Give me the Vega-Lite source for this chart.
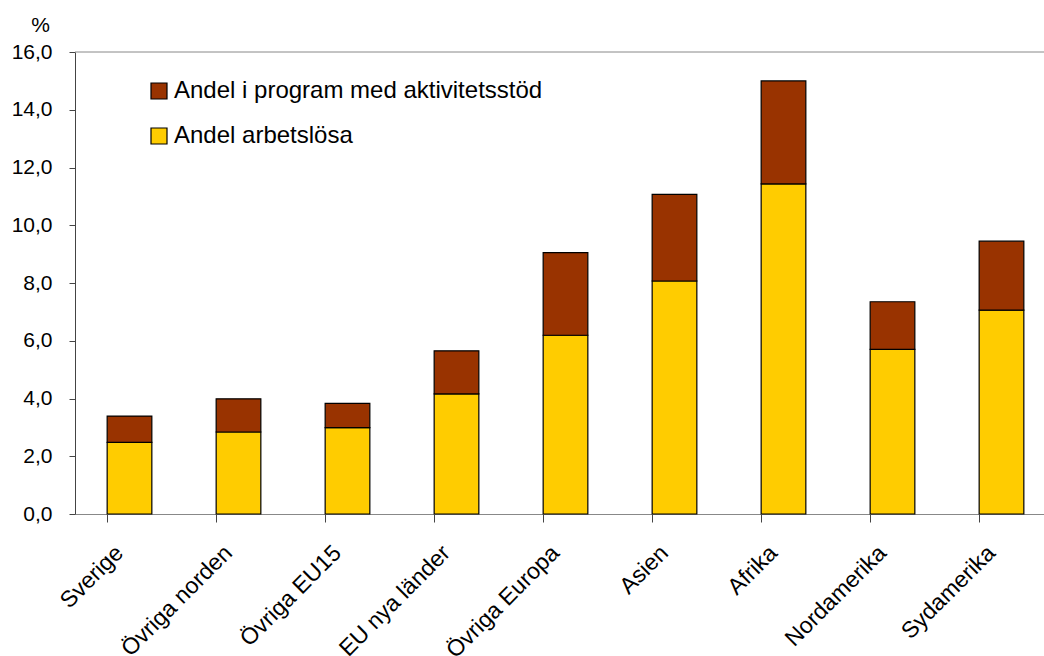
{
  "$schema": "https://vega.github.io/schema/vega-lite/v6.json",
  "width": 981,
  "height": 462,
  "autosize": "none",
  "padding": {"left": 75, "top": 52, "right": 0, "bottom": 142},
  "background": "white",
  "config": {
    "view": {"stroke": null},
    "font": "Liberation Sans"
  },
  "layer": [
    {
      "data": {"values": [{"y": 16}]},
      "mark": {"type": "rule", "color": "#888888", "strokeWidth": 1},
      "encoding": {"y": {"field": "y", "type": "quantitative", "scale": {"domain": [0, 16]}}}
    },
    {
      "data": {
        "values": [
          {"region": "Sverige", "serie": "Andel arbetslösa", "ord": 0, "v": 2.48},
          {"region": "Sverige", "serie": "Andel i program med aktivitetsstöd", "ord": 1, "v": 0.91},
          {"region": "Övriga norden", "serie": "Andel arbetslösa", "ord": 0, "v": 2.84},
          {"region": "Övriga norden", "serie": "Andel i program med aktivitetsstöd", "ord": 1, "v": 1.15},
          {"region": "Övriga EU15", "serie": "Andel arbetslösa", "ord": 0, "v": 2.99},
          {"region": "Övriga EU15", "serie": "Andel i program med aktivitetsstöd", "ord": 1, "v": 0.84},
          {"region": "EU nya länder", "serie": "Andel arbetslösa", "ord": 0, "v": 4.16},
          {"region": "EU nya länder", "serie": "Andel i program med aktivitetsstöd", "ord": 1, "v": 1.49},
          {"region": "Övriga Europa", "serie": "Andel arbetslösa", "ord": 0, "v": 6.19},
          {"region": "Övriga Europa", "serie": "Andel i program med aktivitetsstöd", "ord": 1, "v": 2.86},
          {"region": "Asien", "serie": "Andel arbetslösa", "ord": 0, "v": 8.07},
          {"region": "Asien", "serie": "Andel i program med aktivitetsstöd", "ord": 1, "v": 3.0},
          {"region": "Afrika", "serie": "Andel arbetslösa", "ord": 0, "v": 11.43},
          {"region": "Afrika", "serie": "Andel i program med aktivitetsstöd", "ord": 1, "v": 3.57},
          {"region": "Nordamerika", "serie": "Andel arbetslösa", "ord": 0, "v": 5.70},
          {"region": "Nordamerika", "serie": "Andel i program med aktivitetsstöd", "ord": 1, "v": 1.65},
          {"region": "Sydamerika", "serie": "Andel arbetslösa", "ord": 0, "v": 7.06},
          {"region": "Sydamerika", "serie": "Andel i program med aktivitetsstöd", "ord": 1, "v": 2.39}
        ]
      },
      "mark": {"type": "bar", "stroke": "#000000", "strokeWidth": 1.2},
      "encoding": {
        "x": {
          "field": "region",
          "type": "nominal",
          "sort": null,
          "scale": {"paddingInner": 0.59, "paddingOuter": 0.295},
          "axis": {
            "title": null,
            "bandPosition": 0,
            "tickSize": 8,
            "tickColor": "#444444",
            "domainColor": "#888888",
            "labelAngle": -45,
            "labelAlign": "right",
            "labelBaseline": "middle",
            "labelPadding": 27,
            "labelOffset": -10,
            "labelFontSize": 23,
            "labelColor": "#000000",
            "labelLimit": 400
          }
        },
        "y": {
          "field": "v",
          "type": "quantitative",
          "stack": "zero",
          "scale": {"domain": [0, 16], "nice": false},
          "axis": {
            "values": [0, 2, 4, 6, 8, 10, 12, 14, 16],
            "grid": false,
            "labelExpr": "replace(format(datum.value, '.1f'), '.', ',')",
            "labelFontSize": 21,
            "labelColor": "#000000",
            "labelPadding": 17,
            "tickSize": 6,
            "tickColor": "#444444",
            "domainColor": "#444444",
            "title": "%",
            "titleAngle": 0,
            "titleX": -35,
            "titleY": -27,
            "titleAlign": "center",
            "titleBaseline": "middle",
            "titleFontSize": 21,
            "titleFontWeight": "normal",
            "titleColor": "#000000"
          }
        },
        "color": {
          "field": "serie",
          "type": "nominal",
          "scale": {
            "domain": ["Andel i program med aktivitetsstöd", "Andel arbetslösa"],
            "range": ["#993300", "#FFCC00"]
          },
          "legend": {
            "title": null,
            "orient": "none",
            "legendX": 72,
            "legendY": 27,
            "symbolType": "square",
            "symbolSize": 256,
            "symbolStrokeColor": "#000000",
            "symbolStrokeWidth": 1.2,
            "symbolOpacity": 1,
            "labelFontSize": 24,
            "labelColor": "#000000",
            "labelOffset": 3,
            "labelLimit": 600,
            "rowPadding": 21
          }
        },
        "order": {"field": "ord", "type": "quantitative"}
      }
    }
  ]
}
